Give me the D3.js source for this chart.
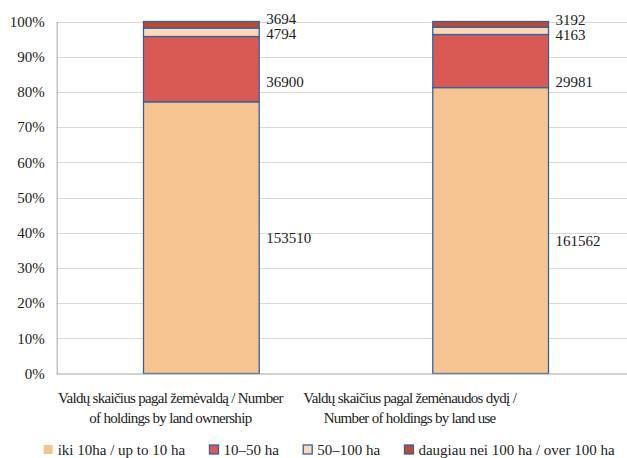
<!DOCTYPE html>
<html>
<head>
<meta charset="utf-8">
<script src="https://cdn.jsdelivr.net/npm/d3@7"></script>
<style>
  html, body { margin: 0; padding: 0; background: #fff; }
  svg text { font-family: "Liberation Serif", "Times New Roman", serif; fill: #222; }
</style>
</head>
<body>
<div id="chart"></div>
<script>
// Kategorijos (x ašis)
const categories = [
    'Valdų skaičius pagal žemėvaldą / Number of holdings by land ownership',
    'Valdų skaičius pagal žemėnaudos dydį / Number of holdings by land use'
]
// Kategorijų pavadinimų eilutės
const categoryLines = [
    ['Valdų skaičius pagal žemėvaldą / Number', 'of holdings by land ownership'],
    ['Valdų skaičius pagal žemėnaudos dydį /', 'Number of holdings by land use']
]
// Serijos
const seriesNames = ['iki 10ha / up to 10 ha', '10–50 ha', '50–100 ha', 'daugiau nei 100 ha / over 100 ha']
const upTo10 = [153510, 161562]
const from10to50 = [36900, 29981]
const from50to100 = [4794, 4163]
const over100 = [3694, 3192]
// y ašies žymės
const yTicks = [0, 0.1, 0.2, 0.3, 0.4, 0.5, 0.6, 0.7, 0.8, 0.9, 1]

// stiliai
const colors = ['#F6C490', '#D95A54', '#FAD8BA', '#BA4B33']
const barStroke = '#3560A0'
// etikečių pastumimas (kaip originale)
const labelNudge = [[0, 13, 1, -6.5], [10, 21, 3.5, -5]]
const catLabelShift = [-31, -81]

const W = 627, H = 458
const plotLeft = 56.7, plotTop = 21.5, plotBottom = 373.5

const svg = d3.select('#chart').append('svg')
    .attr('width', W)
    .attr('height', H)

const seriesValues = [upTo10, from10to50, from50to100, over100]
const rows = categories.map((c, i) => {
    let row = {cat: c}
    seriesNames.forEach((s, j) => row[s] = seriesValues[j][i])
    return row
})
const stacked = d3.stack().keys(seriesNames).offset(d3.stackOffsetExpand)(rows)

const x = d3.scaleBand().domain(categories).range([plotLeft, 635.3])
    .paddingInner(0.6).paddingOuter(0.3)
const y = d3.scaleLinear().domain([0, 1]).range([plotBottom, plotTop])

// tinklelis
svg.append('g').selectAll('line')
    .data(yTicks.filter(t => t > 0))
    .join('line')
    .attr('x1', plotLeft).attr('x2', W)
    .attr('y1', d => Math.round(y(d)) + 0.5).attr('y2', d => Math.round(y(d)) + 0.5)
    .attr('stroke', '#d9d9d9').attr('stroke-width', 1)

// y ašis
const yAxis = svg.append('g')
    .attr('transform', `translate(${plotLeft},0)`)
    .call(d3.axisLeft(y).tickValues(yTicks).tickFormat(d3.format('.0%')).tickSize(0).tickPadding(12))
yAxis.select('.domain').attr('stroke', '#a6a6a6')
yAxis.selectAll('text').attr('font-size', 15).attr('font-family', '"Liberation Serif", serif').attr('fill', '#222')

// stulpeliai
const groups = svg.append('g').selectAll('g')
    .data(stacked)
    .join('g')
    .attr('fill', (d, i) => colors[i])

groups.selectAll('rect')
    .data(d => d)
    .join('rect')
    .attr('x', d => x(d.data.cat))
    .attr('width', x.bandwidth())
    .attr('y', d => y(d[1]))
    .attr('height', d => y(d[0]) - y(d[1]))
    .attr('stroke', barStroke)
    .attr('stroke-width', 1.3)

// bazinė linija
svg.append('line')
    .attr('x1', plotLeft).attr('x2', W)
    .attr('y1', plotBottom + 0.5).attr('y2', plotBottom + 0.5)
    .attr('stroke', '#a6a6a6')

// reikšmių etiketės
stacked.forEach((s, si) => {
    svg.append('g').selectAll('text')
        .data(s)
        .join('text')
        .attr('x', d => x(d.data.cat) + x.bandwidth() + 7)
        .attr('y', (d, ci) => (y(d[0]) + y(d[1])) / 2 + labelNudge[ci][si])
        .attr('dy', '0.35em')
        .attr('font-size', 15)
        .text(d => d.data[s.key])
})

// kategorijų pavadinimai
categories.forEach((c, i) => {
    let cx = x(c) + x.bandwidth() / 2 + catLabelShift[i]
    svg.append('text')
        .attr('text-anchor', 'middle')
        .attr('font-size', 15)
        .attr('letter-spacing', -0.7)
        .selectAll('tspan')
        .data(categoryLines[i])
        .join('tspan')
        .attr('x', cx)
        .attr('y', (d, k) => 403 + k * 19.5)
        .text(d => d)
})

// legenda
const legend = svg.append('g')
const items = legend.selectAll('g')
    .data(seriesNames)
    .join('g')
items.append('rect')
    .attr('y', 445).attr('width', 9).attr('height', 9)
    .attr('fill', (d, i) => colors[i])
    .attr('stroke', (d, i) => i == 0 ? 'none' : barStroke)
    .attr('stroke-width', 1.3)
items.append('text')
    .attr('x', 14).attr('y', 450).attr('dy', '0.35em')
    .attr('font-size', 15)
    .text(d => d)

const legendGap = 24
let pos = 0
items.each(function(d, i) {
    let w = this.getBBox().width
    d3.select(this).attr('transform', `translate(${pos},0)`)
    pos += w + legendGap
})
let total = pos - legendGap
legend.attr('transform', `translate(${615 - total},0)`)
</script>
</body>
</html>
